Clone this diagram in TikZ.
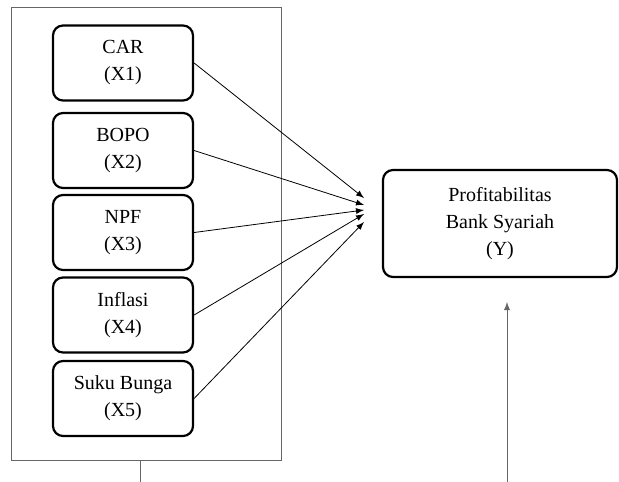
\documentclass[tikz,border=0pt]{standalone}
\usepackage{fontspec}
\setmainfont{Liberation Serif}
\usepackage{tikz}

\begin{document}
\begin{tikzpicture}[x=0.5pt, y=-0.5pt, >=latex,
    varbox/.style={draw, line width=1.1pt, rounded corners=5pt, minimum width=70pt, minimum height=37.5pt, align=center, font=\fontsize{10}{13.5}\selectfont},
    link/.style={->, line width=0.4pt}]
    \useasboundingbox (0,0) rectangle (619,481);

    % Outer frame of the independent variables
    \draw[gray!80!black, line width=0.5pt] (11,8) rectangle (281,460);
    \coordinate (frame) at (140,460);
    \coordinate (framedown) at (140,482);
    \draw[gray!80!black, line width=0.5pt] (frame) -- (framedown);

    % Independent variables
    \node[varbox] (x1) at (123,63) {CAR\\(X1)};
    \node[varbox] (x2) at (123,150.5) {BOPO\\(X2)};
    \node[varbox] (x3) at (123,232.5) {NPF\\(X3)};
    \node[varbox] (x4) at (123,315) {Inflasi\\(X4)};
    \node[varbox] (x5) at (123,398.5) {Suku Bunga\\(X5)};

    % Dependent variable
    \node[varbox, minimum width=117pt, minimum height=53.5pt] (y) at (500,223.5) {Profitabilitas\\Bank Syariah\\(Y)};

    % Arrows to Y
    \coordinate (hub) at (364,210);
    \draw[link] (x1.east) -- ([yshift=6pt]hub);
    \draw[link] (x2.east) -- ([yshift=2.5pt]hub);
    \draw[link] (x3.east) -- (hub);
    \draw[link] (x4.east) -- ([yshift=-2pt]hub);
    \draw[link] (x5.east) -- ([yshift=-6pt]hub);

    \coordinate (yin) at (507,302);
    \coordinate (ydown) at (507,482);
    \draw[link, gray!80!black] (ydown) -- (yin);
\end{tikzpicture}
\end{document}
